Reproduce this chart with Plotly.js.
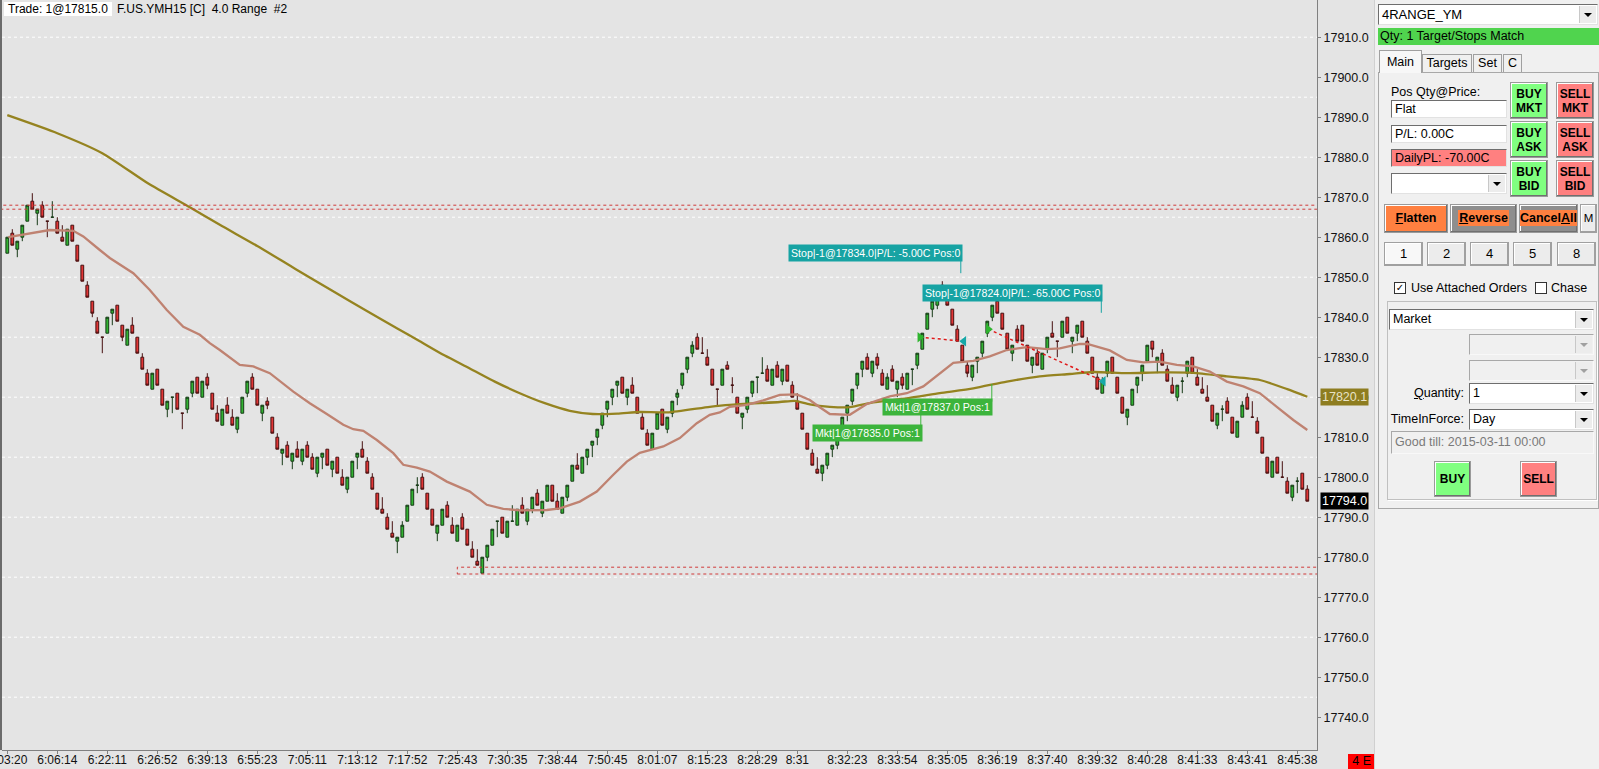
<!DOCTYPE html>
<html><head><meta charset="utf-8">
<script src="https://cdn.plot.ly/plotly-3.0.1.min.js"></script>
<style>
html,body{margin:0;padding:0;width:1599px;height:769px;overflow:hidden;background:#e4e4e4;}
#chart{position:absolute;left:0;top:0;width:1599px;height:769px;}
.a{position:absolute;box-sizing:border-box;white-space:nowrap;font-family:"Liberation Sans",Arial,sans-serif;font-size:12px;color:#000;}
.tb{background:#fff;border:1px solid;border-color:#6e6e6e #e2e2e2 #e2e2e2 #6e6e6e;padding-left:3px;}
.dis{background:#f0f0f0;border:1px solid;border-color:#a8a8a8 #f8f8f8 #f8f8f8 #a8a8a8;}
.btn{border:1px solid #9a9a9a;box-shadow:inset -1px -1px 0 #707070,inset 1px 1px 0 #ffffff;text-align:center;font-weight:bold;}
.nb{border:1px solid #a0a0a0;box-shadow:inset -1px -1px 0 #a0a0a0,inset 1px 1px 0 #fff;background:#ececec;text-align:center;font-size:13px;line-height:22px;}
.arr{position:absolute;right:1px;top:1px;bottom:1px;width:16px;background:#ececec;border-left:1px solid #c8c8c8;}
.arr:after{content:"";position:absolute;left:4px;top:7px;border-left:4px solid transparent;border-right:4px solid transparent;border-top:4px solid #000;}
.arrd:after{border-top-color:#a0a0a0;}
.tab{background:#f0f0f0;border:1px solid #a0a0a0;border-bottom:none;text-align:center;font-size:12.5px;}
</style></head><body>
<div id="chart"></div>

<!-- left frame bar and chart title -->
<div class="a" style="left:0;top:0;width:2px;height:750px;background:#6b6b6b"></div>
<div class="a" style="left:4px;top:2px;height:14px;padding:0 4px;background:#fff;line-height:14px">Trade: 1@17815.0</div>
<div class="a" style="left:117px;top:2px;line-height:14px">F.US.YMH15 [C]&nbsp; 4.0 Range&nbsp; #2</div>
<div class="a" style="left:1348px;top:754px;width:26px;height:15px;background:#ff0000;line-height:15px;text-align:right;padding-right:3px;font-size:12.5px">4 E</div>

<!-- right order panel -->
<div class="a" style="left:1374px;top:0;width:225px;height:769px;background:#f0f0f0;border-left:1px solid #d0d0d0"></div>
<div class="a tb" style="left:1378px;top:4px;width:220px;height:21px;line-height:19px;font-size:13px">4RANGE_YM<div class="arr"></div></div>
<div class="a" style="left:1378px;top:28px;width:221px;height:17px;background:#50d44e;line-height:17px;padding-left:2px;font-size:12.5px">Qty: 1 Target/Stops Match</div>
<div class="a" style="left:1378px;top:72px;width:221px;height:437px;border:1px solid #a8a8a8;background:#f0f0f0"></div>
<div class="a tab" style="left:1379px;top:50px;width:43px;height:23px;line-height:22px;background:#f7f7f7">Main</div>
<div class="a tab" style="left:1422px;top:54px;width:50px;height:18px;line-height:17px">Targets</div>
<div class="a tab" style="left:1473px;top:54px;width:29px;height:18px;line-height:17px">Set</div>
<div class="a tab" style="left:1503px;top:54px;width:19px;height:18px;line-height:17px">C</div>

<div class="a" style="left:1391px;top:85px;line-height:14px;font-size:12.5px">Pos Qty@Price:</div>
<div class="a tb" style="left:1391px;top:100px;width:116px;height:18px;line-height:16px;font-size:12.5px">Flat</div>
<div class="a tb" style="left:1391px;top:125px;width:116px;height:18px;line-height:16px;font-size:12.5px">P/L: 0.00C</div>
<div class="a tb" style="left:1391px;top:149px;width:116px;height:18px;line-height:16px;font-size:12.5px;background:#ff8080">DailyPL: -70.00C</div>
<div class="a tb" style="left:1391px;top:173px;width:116px;height:21px"><div class="arr"></div></div>

<div class="a btn" style="left:1510px;top:82px;width:38px;height:37px;background:#80ff80;padding-top:4px;line-height:14px">BUY<br>MKT</div>
<div class="a btn" style="left:1510px;top:121px;width:38px;height:37px;background:#80ff80;padding-top:4px;line-height:14px">BUY<br>ASK</div>
<div class="a btn" style="left:1510px;top:160px;width:38px;height:37px;background:#80ff80;padding-top:4px;line-height:14px">BUY<br>BID</div>
<div class="a btn" style="left:1556px;top:82px;width:38px;height:37px;background:#ff8080;padding-top:4px;line-height:14px">SELL<br>MKT</div>
<div class="a btn" style="left:1556px;top:121px;width:38px;height:37px;background:#ff8080;padding-top:4px;line-height:14px">SELL<br>ASK</div>
<div class="a btn" style="left:1556px;top:160px;width:38px;height:37px;background:#ff8080;padding-top:4px;line-height:14px">SELL<br>BID</div>

<div class="a btn" style="left:1384px;top:204px;width:64px;height:29px;background:#ff8040;line-height:27px;font-size:12.5px"><u>F</u>latten</div>
<div class="a btn" style="left:1450px;top:204px;width:67px;height:29px;background:#8e8e8e;line-height:27px;font-size:12.5px"><span style="background:#ff8040;padding:1px 1px"><u>R</u>everse</span></div>
<div class="a btn" style="left:1519px;top:204px;width:59px;height:29px;background:#8e8e8e;line-height:27px;font-size:12.5px"><span style="background:#ff8040;padding:1px 0">Cancel<u>A</u>ll</span></div>
<div class="a nb" style="left:1580px;top:204px;width:17px;height:29px;line-height:27px;font-size:11.5px">M</div>

<div class="a nb" style="left:1384px;top:242px;width:39px;height:24px;background:#f8f8f8">1</div>
<div class="a nb" style="left:1427px;top:242px;width:39px;height:24px">2</div>
<div class="a nb" style="left:1470px;top:242px;width:39px;height:24px">4</div>
<div class="a nb" style="left:1513px;top:242px;width:39px;height:24px">5</div>
<div class="a nb" style="left:1557px;top:242px;width:39px;height:24px">8</div>

<div class="a" style="left:1394px;top:282px;width:12px;height:12px;background:#fff;border:1px solid #333;font-family:'DejaVu Sans';font-size:10px;line-height:10px;text-align:center">&#10003;</div>
<div class="a" style="left:1411px;top:281px;line-height:14px;font-size:12.5px">Use Attached Orders</div>
<div class="a" style="left:1535px;top:282px;width:12px;height:12px;background:#fff;border:1px solid #333"></div>
<div class="a" style="left:1551px;top:281px;line-height:14px;font-size:12.5px">Chase</div>

<div class="a" style="left:1387px;top:301px;width:210px;height:199px;border:1px solid #c0c0c0;box-shadow:1px 1px 0 #fff"></div>
<div class="a tb" style="left:1389px;top:309px;width:205px;height:21px;line-height:19px;font-size:12.5px">Market<div class="arr"></div></div>
<div class="a dis" style="left:1469px;top:334px;width:125px;height:21px"><div class="arr arrd"></div></div>
<div class="a dis" style="left:1469px;top:360px;width:125px;height:21px"><div class="arr arrd"></div></div>
<div class="a" style="left:1380px;top:386px;width:84px;text-align:right;line-height:14px;font-size:12.5px"><u>Q</u>uantity:</div>
<div class="a tb" style="left:1469px;top:383px;width:125px;height:21px;line-height:19px;font-size:12.5px">1<div class="arr"></div></div>
<div class="a" style="left:1380px;top:412px;width:84px;text-align:right;line-height:14px;font-size:12.5px">TimeInForce:</div>
<div class="a tb" style="left:1469px;top:409px;width:125px;height:21px;line-height:19px;font-size:12.5px">Day<div class="arr"></div></div>
<div class="a dis" style="left:1391px;top:431px;width:203px;height:23px;line-height:21px;padding-left:3px;color:#7a7a7a;font-size:12.5px">Good till: 2015-03-11 00:00</div>
<div class="a btn" style="left:1434px;top:461px;width:37px;height:36px;background:#80ff80;line-height:34px">BUY</div>
<div class="a btn" style="left:1520px;top:461px;width:37px;height:36px;background:#ff8080;line-height:34px">SELL</div>

<script>
// ---------- DATA ----------
// bar index 0..260, 4.0 range bars
var open = [
17856,17861,17857,17860,17864,17869,17866,17868,17864,17865,
17864,17860,17858,17863,17858,17853,17848,17844,17839,17835,
17836,17841,17843,17838,17833,17838,17835,17830,17826,17822,
17827,17822,17817,17820,17821,17816,17817,17821,17825,17820,
17825,17821,17816,17813,17818,17815,17812,17816,17821,17825,
17822,17816,17819,17815,17810,17806,17808,17804,17807,17804,
17808,17805,17801,17805,17807,17802,17805,17800,17797,17800,
17805,17807,17804,17800,17796,17792,17790,17786,17784,17785,
17789,17793,17798,17800,17796,17792,17786,17788,17793,17788,
17784,17790,17787,17782,17779,17776,17780,17783,17789,17790,
17785,17789,17788,17793,17789,17792,17796,17791,17794,17798,
17794,17791,17795,17799,17803,17801,17805,17808,17810,17813,
17817,17820,17823,17825,17820,17823,17820,17815,17811,17807,
17812,17817,17812,17816,17820,17823,17827,17831,17835,17831,
17830,17827,17822,17823,17828,17823,17820,17815,17817,17821,
17825,17826,17827,17823,17828,17824,17828,17823,17819,17816,
17811,17806,17802,17801,17803,17807,17808,17812,17816,17819,
17823,17827,17830,17826,17830,17826,17822,17827,17822,17825,
17822,17827,17828,17832,17837,17842,17843,17848,17845,17842,
17837,17833,17828,17825,17829,17831,17836,17840,17844,17841,
17836,17831,17837,17838,17833,17828,17831,17827,17832,17836,
17834,17835,17840,17834,17836,17839,17834,17830,17825,17821,
17826,17830,17825,17820,17815,17818,17823,17826,17829,17834,
17829,17831,17827,17823,17820,17824,17826,17830,17825,17822,
17820,17818,17813,17817,17819,17815,17810,17815,17820,17815,
17814,17810,17805,17800,17805,17800,17799,17795,17799,17801,
17797];
var high = [
17860,17862,17859,17863,17868,17871,17867,17869,17864,17869,
17865,17863,17862,17863,17858,17853,17849,17844,17840,17835,
17840,17842,17843,17838,17837,17840,17835,17831,17827,17826,
17827,17822,17819,17820,17821,17816,17820,17824,17825,17824,
17826,17821,17818,17817,17820,17817,17815,17820,17824,17826,
17822,17818,17820,17815,17811,17807,17809,17806,17809,17807,
17809,17806,17805,17806,17807,17804,17805,17802,17800,17804,
17806,17809,17805,17801,17796,17795,17791,17789,17785,17789,
17793,17797,17800,17801,17796,17792,17788,17792,17794,17790,
17788,17791,17787,17784,17782,17780,17783,17787,17789,17790,
17789,17793,17792,17795,17792,17795,17797,17794,17798,17798,
17796,17795,17798,17803,17806,17805,17807,17809,17812,17816,
17819,17822,17824,17825,17822,17825,17820,17816,17812,17811,
17816,17817,17815,17819,17822,17826,17830,17834,17836,17835,
17832,17827,17822,17827,17829,17825,17820,17816,17820,17824,
17825,17830,17828,17827,17829,17827,17828,17824,17821,17816,
17811,17807,17805,17803,17806,17808,17811,17815,17818,17822,
17826,17829,17831,17829,17831,17827,17826,17828,17824,17826,
17826,17827,17831,17836,17841,17844,17846,17849,17847,17842,
17838,17833,17829,17828,17830,17834,17839,17843,17845,17841,
17836,17833,17838,17838,17833,17830,17832,17831,17835,17839,
17834,17839,17840,17835,17838,17839,17835,17830,17826,17825,
17829,17830,17825,17820,17817,17822,17825,17828,17833,17834,
17830,17832,17828,17825,17823,17825,17829,17830,17827,17825,
17823,17818,17816,17818,17820,17815,17814,17819,17821,17819,
17815,17810,17805,17804,17805,17804,17800,17798,17800,17801,
17798];
var low = [
17856,17858,17855,17859,17864,17867,17863,17865,17860,17865,
17861,17859,17858,17859,17854,17849,17845,17840,17836,17831,
17836,17838,17839,17834,17833,17836,17831,17827,17823,17822,
17823,17818,17815,17816,17817,17812,17816,17820,17821,17820,
17822,17817,17814,17813,17816,17813,17811,17816,17820,17822,
17818,17814,17817,17811,17807,17803,17805,17802,17805,17803,
17805,17802,17800,17802,17803,17800,17801,17798,17796,17800,
17802,17805,17801,17797,17792,17791,17787,17785,17781,17785,
17789,17793,17796,17797,17792,17788,17784,17788,17790,17786,
17784,17787,17783,17780,17778,17776,17779,17783,17785,17786,
17785,17789,17788,17791,17788,17791,17793,17790,17794,17794,
17792,17791,17794,17799,17802,17801,17803,17805,17808,17812,
17815,17818,17820,17821,17818,17821,17816,17812,17808,17807,
17812,17813,17811,17815,17818,17822,17826,17830,17832,17831,
17828,17823,17818,17823,17827,17821,17816,17812,17816,17820,
17821,17826,17824,17823,17825,17823,17824,17820,17817,17812,
17807,17803,17801,17799,17802,17805,17807,17811,17814,17818,
17822,17825,17827,17825,17827,17823,17822,17824,17820,17822,
17822,17823,17827,17832,17837,17840,17842,17845,17843,17838,
17834,17829,17825,17824,17826,17830,17835,17839,17841,17837,
17832,17829,17834,17834,17829,17826,17828,17827,17831,17835,
17830,17835,17836,17831,17834,17835,17831,17826,17822,17821,
17825,17826,17821,17816,17813,17818,17821,17824,17829,17830,
17826,17828,17824,17821,17819,17821,17825,17826,17823,17821,
17819,17814,17812,17814,17816,17811,17810,17815,17817,17815,
17811,17806,17801,17800,17801,17800,17796,17794,17796,17797,
17794];
var close = [
17860,17858,17859,17863,17868,17867,17867,17865,17864,17865,
17861,17859,17862,17859,17854,17849,17845,17841,17836,17835,
17840,17842,17839,17835,17837,17836,17831,17827,17823,17826,
17823,17818,17819,17820,17817,17816,17820,17824,17821,17824,
17823,17817,17814,17817,17816,17813,17815,17820,17824,17822,
17818,17818,17818,17811,17807,17807,17805,17806,17805,17807,
17805,17802,17805,17806,17803,17804,17801,17798,17800,17804,
17806,17805,17801,17797,17792,17791,17787,17785,17785,17788,
17793,17797,17798,17797,17792,17788,17788,17792,17790,17786,
17788,17787,17783,17780,17778,17780,17783,17787,17789,17786,
17789,17789,17792,17791,17792,17795,17793,17794,17798,17794,
17792,17795,17798,17803,17802,17805,17807,17809,17812,17816,
17819,17822,17824,17821,17822,17821,17816,17812,17808,17811,
17816,17813,17815,17819,17821,17826,17830,17833,17832,17831,
17828,17823,17822,17827,17827,17823,17816,17816,17820,17824,
17825,17826,17824,17827,17825,17827,17824,17820,17817,17812,
17807,17803,17801,17803,17806,17808,17811,17815,17818,17822,
17826,17829,17827,17829,17828,17823,17825,17824,17824,17823,
17826,17827,17831,17836,17841,17844,17846,17845,17843,17838,
17834,17829,17826,17828,17830,17834,17839,17843,17841,17837,
17832,17833,17834,17834,17829,17830,17828,17831,17835,17835,
17834,17839,17836,17835,17838,17835,17831,17826,17822,17824,
17829,17826,17821,17816,17817,17822,17825,17828,17833,17832,
17830,17828,17824,17821,17823,17824,17829,17826,17823,17821,
17819,17814,17816,17817,17816,17811,17814,17818,17817,17815,
17811,17806,17801,17804,17801,17800,17796,17798,17799,17797,
17794];

// fast moving average (salmon) read at these bar positions
var fastMaIdx = [0.2,5.2,8.5,13.2,15.2,18.5,20.5,25.2,28.5,31.9,35.2,38.5,40.5,42.5,46.5,49.2,52.5,57.2,60.5,63.9,
  67.2,69.2,71.2,73.9,77.2,79.2,81.9,84.5,87.9,92.5,95.9,99.2,102.5,107.9,110.5,114.5,117.9,121.2,123.9,126.5,
  131.2,134.5,137.9,140.5,142.5,144.5,147.9,151.2,154.5,157.9,160.5,162.5,164.5,168.5,171.9,176.5,179.9,183.2,186.5,189.2,
  193.2,196.5,199.9,203.9,207.9,210.5,214.5,216,220.5,223.9,227.2,230.5,233.9,237.2,240.5,243.9,247.2,250.5,253.9,257.2,260];
var fastMaVal = [17860.0,17861.0,17861.8,17861.6,17860.2,17856.8,17854.8,17851.0,17846.8,17841.8,17837.6,17835.6,17833.5,17831.8,17828.1,17827.7,17826.0,17821.4,17818.5,17815.8,
  17813.1,17812.0,17811.6,17809.3,17806.0,17803.1,17802.4,17801.4,17798.9,17796.4,17793.1,17792.1,17791.7,17791.8,17792.2,17793.9,17796.4,17800.6,17803.9,17806.1,
  17807.7,17809.8,17813.5,17815.6,17816.2,17817.6,17818.1,17819.2,17820.6,17820.7,17819.3,17817.5,17815.8,17815.6,17818.3,17820.2,17821.0,17822.7,17826.0,17828.6,
  17829.1,17830.2,17831.8,17832.5,17832.0,17832.2,17833.3,17833.3,17831.7,17829.3,17828.7,17828.9,17828.1,17827.7,17826.4,17823.9,17822.7,17821.0,17817.6,17814.3,17811.8];

// slow moving average (olive)
var slowMaIdx = [0,10,19,28.2,36.5,42.5,50,57.7,65,72,78,82.5,87.5,92.5,97.5,102.5,107.5,112.5,117.1,122,126.5,132,140.5,144.5,154.5,157.5,160.5,164.5,
  168.5,173.2,179.9,186.5,193.2,199.9,206.5,212.5,217.2,223.9,230.5,237.2,243.9,250.5,256,260];
var slowMaVal = [17890.5,17886.0,17881.0,17873.4,17867.5,17863.1,17857.8,17852.0,17846.6,17841.5,17837.2,17834.0,17830.4,17827.2,17823.9,17821.0,17818.5,17816.6,17815.8,17815.9,17816.3,17816.2,17817.6,17818.1,17818.8,17819.1,17818.2,17817.6,
  17817.5,17818.7,17819.7,17821.0,17822.2,17823.9,17825.2,17825.8,17826.3,17826.0,17826.2,17826.1,17825.2,17824.3,17822.0,17820.1];

// trades
var entryIdx = [182.5, 196.2], entryPx = [17835, 17837];
var exitIdx  = [191.3, 219.2], exitPx  = [17834, 17824];

// order labels
var lblText  = ['Stop|-1@17834.0|P/L: -5.00C Pos:0','Stop|-1@17824.0|P/L: -65.00C Pos:0','Mkt|1@17837.0 Pos:1','Mkt|1@17835.0 Pos:1'];
var lblIdx   = [191.1, 219.1, 197.1, 183.1];
var lblPx    = [17856.1, 17846.1, 17817.5, 17811.1];
var lblColor = ['#17a3a3','#17a3a3','#3cb43c','#3cb43c'];
var tailIdx  = [190.7, 218.8, 196.9, 182.7];
var tailFrom = [17854.3, 17844.6, 17818.9, 17812.6];
var tailTo   = [17851.0, 17841.1, 17823.3, 17815.9];

// horizontal zones
var topZone = [17867, 17868];
var lowZone = [17775.8, 17777.5], lowZoneStart = 90;

// axis ticks
var tickIdx = [0,10,20,30,40,50,60,70,80,90,100,110,120,130,140,150,158,168,178,188,198,208,218,228,238,248,258];
var tickText = ['6:03:20','6:06:14','6:22:11','6:26:52','6:39:13','6:55:23','7:05:11','7:13:12','7:17:52','7:25:43','7:30:35','7:38:44','7:50:45','8:01:07','8:15:23','8:28:29','8:31','8:32:23','8:33:54','8:35:05','8:36:19','8:37:40','8:39:32','8:40:28','8:41:33','8:43:41','8:45:38'];
var lastPrice = 17794.0, lastSlow = 17820.1;

// ---------- CHART ----------
var idx = open.map(function(_, i){ return i; });
var FONT = 'Liberation Sans, Arial, sans-serif';

var traces = [
  {type:'scatter', mode:'lines', x:slowMaIdx, y:slowMaVal, line:{color:'#958320', width:2.3, shape:'spline', smoothing:0.6}, hoverinfo:'skip'},
  {type:'scatter', mode:'lines', x:fastMaIdx, y:fastMaVal, line:{color:'#bf8271', width:2.3}, hoverinfo:'skip'},
  {type:'candlestick', x:idx, open:open, high:high, low:low, close:close, whiskerwidth:0,
   increasing:{line:{color:'#173a17', width:1}, fillcolor:'#32b432'},
   decreasing:{line:{color:'#461010', width:1}, fillcolor:'#e23636'}, hoverinfo:'skip'}
];
for (var t = 0; t < entryIdx.length; t++) {
  traces.push({type:'scatter', mode:'lines', x:[entryIdx[t], exitIdx[t]], y:[entryPx[t], exitPx[t]],
    line:{color:'#e01818', width:1.5, dash:'dot'}, hoverinfo:'skip'});
}
traces.push({type:'scatter', mode:'markers', x:entryIdx, y:entryPx,
  marker:{symbol:'triangle-right', size:9, color:'#2fb52f'}, hoverinfo:'skip'});
traces.push({type:'scatter', mode:'markers', x:exitIdx, y:exitPx,
  marker:{symbol:'triangle-left', size:9, color:'#18a8a8'}, hoverinfo:'skip'});

var shapes = [];
// dotted white grid every 15 points
for (var g = 17910; g >= 17735; g -= 15) {
  shapes.push({type:'line', layer:'below', xref:'paper', x0:0, x1:1, yref:'y', y0:g, y1:g,
    line:{color:'#ffffff', width:1, dash:'dot'}});
}
shapes.push({type:'rect', xref:'x', yref:'y', x0:-5, x1:270, y0:topZone[0], y1:topZone[1],
  line:{color:'#d03a3a', width:1, dash:'dot'}});
shapes.push({type:'rect', xref:'x', yref:'y', x0:lowZoneStart, x1:270, y0:lowZone[0], y1:lowZone[1],
  line:{color:'#d03a3a', width:1, dash:'dot'}});
for (var k = 0; k < tailIdx.length; k++) {
  shapes.push({type:'line', xref:'x', yref:'y', x0:tailIdx[k], x1:tailIdx[k], y0:tailFrom[k], y1:tailTo[k],
    line:{color:lblColor[k], width:1}});
}

var annotations = [];
for (var m = 0; m < lblText.length; m++) {
  annotations.push({x:lblIdx[m], y:lblPx[m], xref:'x', yref:'y', xanchor:'right', yanchor:'middle',
    text:lblText[m], showarrow:false, bgcolor:lblColor[m], borderpad:2,
    font:{family:FONT, size:10.6, color:'#ffffff'}});
}
annotations.push({xref:'paper', x:1, xanchor:'left', xshift:3, yref:'y', y:lastSlow, yanchor:'middle',
  text:lastSlow.toFixed(1), showarrow:false, bgcolor:'#8e7d20', borderpad:1,
  font:{family:FONT, size:12.5, color:'#e8e2c4'}});
annotations.push({xref:'paper', x:1, xanchor:'left', xshift:3, yref:'y', y:lastPrice, yanchor:'middle',
  text:lastPrice.toFixed(1), showarrow:false, bgcolor:'#000000', borderpad:1,
  font:{family:FONT, size:12.5, color:'#ffffff'}});

var layout = {
  width:1599, height:769,
  margin:{l:2, r:282, t:0, b:19, pad:0},
  paper_bgcolor:'#e4e4e4', plot_bgcolor:'#e4e4e4',
  showlegend:false, boxgap:0.2,
  font:{family:FONT, size:12, color:'#111'},
  xaxis:{type:'linear', range:[-1.06, 261.94], rangeslider:{visible:false}, fixedrange:true,
    tickmode:'array', tickvals:tickIdx, ticktext:tickText, ticks:'outside', ticklen:3, tickcolor:'#808080',
    ticklabelstandoff:-4, ticklabeloverflow:'allow',
    showgrid:false, zeroline:false, showline:true, linecolor:'#808080', linewidth:1,
    tickfont:{family:FONT, size:12, color:'#111'}},
  yaxis:{side:'right', range:[17731.8, 17919.3], dtick:10, tick0:17910, tickformat:'.1f', fixedrange:true,
    ticks:'outside', ticklen:3, tickcolor:'#808080', showgrid:false, zeroline:false,
    showline:true, linecolor:'#808080', linewidth:1,
    tickfont:{family:FONT, size:12.5, color:'#111'}},
  shapes:shapes, annotations:annotations
};
Plotly.newPlot('chart', traces, layout, {staticPlot:true, displayModeBar:false});
</script>
</body></html>
